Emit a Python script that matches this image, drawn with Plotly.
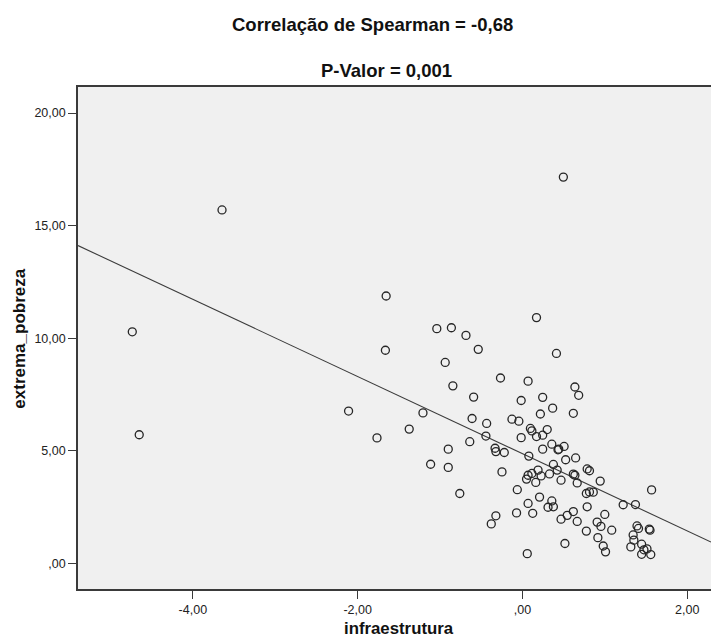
import numpy as np
import plotly.graph_objects as go

# infraestrutura (x) and extrema_pobreza (y)
infraestrutura = [
    -4.735, -4.651, -3.646, -2.110, -1.765, -1.374, -1.207, -1.114, -0.900, -0.760,
    -1.654, -1.663, -1.039, -0.862, -0.685, -0.536, -0.937, -0.844, -0.592, -0.266,
    0.069, 0.171, 0.497, 0.413, -0.015, 0.246, 0.367, 0.218, -0.611, -0.434,
    -0.127, -0.043, 0.097, 0.115, 0.171, 0.246, 0.301, -0.015, -0.443, -0.639,
    -0.900, -0.332, -0.322, -0.220, 0.078, 0.246, 0.357, 0.432, 0.441, 0.506,
    0.525, 0.646, 0.637, 0.683, 0.618, -0.248, 0.190, 0.376, 0.422, 0.069,
    0.115, 0.050, 0.162, 0.227, 0.329, 0.469, 0.618, 0.637, 0.665, 0.786,
    0.814, 0.944, -0.062, 0.208, 0.069, 0.357, 0.311, 0.376, -0.071, 0.125,
    -0.322, -0.378, 0.469, 0.544, 0.618, 0.665, 0.776, 0.516, 0.059, 0.776,
    0.814, 0.860, 0.786, 1.223, 1.372, 1.568, 1.000, 0.907, 0.953, 1.084,
    0.916, 1.391, 1.409, 1.540, 1.549, 1.344, 1.353, 0.981, 1.009, 1.316,
    1.447, 1.475, 1.512, 1.447, 1.558,
]
extrema_pobreza = [
    10.29, 5.72, 15.70, 6.77, 5.58, 5.97, 6.69, 4.41, 4.27, 3.11,
    11.88, 9.47, 10.43, 10.47, 10.13, 9.51, 8.93, 7.89, 7.39, 8.24,
    8.10, 10.92, 17.16, 9.33, 7.24, 7.38, 6.90, 6.64, 6.44, 6.22,
    6.41, 6.32, 6.00, 5.89, 5.64, 5.70, 5.95, 5.59, 5.66, 5.41,
    5.08, 5.12, 4.97, 4.93, 4.77, 5.08, 5.30, 5.05, 5.08, 5.20,
    4.61, 4.69, 7.84, 7.47, 6.67, 4.07, 4.15, 4.40, 4.15, 3.92,
    4.00, 3.75, 3.60, 3.89, 3.98, 3.70, 3.97, 3.92, 3.58, 4.20,
    4.12, 3.66, 3.28, 2.95, 2.67, 2.78, 2.50, 2.52, 2.25, 2.23,
    2.12, 1.76, 1.97, 2.14, 2.31, 1.87, 1.44, 0.89, 0.44, 3.11,
    3.18, 3.17, 2.52, 2.61, 2.62, 3.27, 2.18, 1.84, 1.65, 1.48,
    1.15, 1.67, 1.56, 1.53, 1.48, 1.27, 1.04, 0.78, 0.52, 0.74,
    0.86, 0.61, 0.65, 0.41, 0.40,
]

x_tick_vals = [-4, -2, 0, 2]
x_tick_text = ["-4,00", "-2,00", ",00", "2,00"]
y_tick_vals = [0, 5, 10, 15, 20]
y_tick_text = [",00", "5,00", "10,00", "15,00", "20,00"]

title_line1 = "Correlação de Spearman = -0,68"
title_line2 = "P-Valor = 0,001"
x_title = "infraestrutura"
y_title = "extrema_pobreza"

x_range = [-5.394, 2.289]
y_range = [-1.13, 21.16]

# Linear fit (least squares) computed from the data
slope, intercept = np.polyfit(infraestrutura, extrema_pobreza, 1)
fit_x = np.array(x_range)
fit_y = intercept + slope * fit_x

FONT = "Arial, Liberation Sans, sans-serif"
W, H = 711, 639
L, T, R, B = 78.3, 87.3, 0, 50.3
pw, ph = W - L - R, H - T - B


def px_to_paper(px, py):
    return (px - L) / pw, (H - B - py) / ph


fig = go.Figure()
fig.add_trace(go.Scatter(
    x=fit_x, y=fit_y, mode="lines",
    line=dict(color="#3c3c3c", width=1.1),
    hoverinfo="skip", showlegend=False,
))
fig.add_trace(go.Scatter(
    x=infraestrutura, y=extrema_pobreza, mode="markers",
    marker=dict(symbol="circle-open", size=8, color="#262626",
                line=dict(width=1.3)),
    showlegend=False,
))

annotations = []
for text, (px, py), size in [
    (title_line1, (372.5, 25), 18.5),
    (title_line2, (386.7, 70.5), 18.5),
    (x_title, (399.6, 628.5), 16.8),
]:
    ax, ay = px_to_paper(px, py)
    annotations.append(dict(
        text="<b>%s</b>" % text, x=ax, y=ay, xref="paper", yref="paper",
        xanchor="center", yanchor="middle", showarrow=False,
        font=dict(family=FONT, size=size, color="#111111"),
    ))
ax, ay = px_to_paper(19, 339)
annotations.append(dict(
    text="<b>%s</b>" % y_title, x=ax, y=ay, xref="paper", yref="paper",
    xanchor="center", yanchor="middle", showarrow=False, textangle=-90,
    font=dict(family=FONT, size=17, color="#111111"),
))

fig.update_layout(
    width=W, height=H,
    margin=dict(l=L, t=T, r=R, b=B, pad=0),
    paper_bgcolor="white",
    plot_bgcolor="#f0f0f0",
    font=dict(family=FONT, size=12.5, color="#222222"),
    annotations=annotations,
    xaxis=dict(
        range=x_range, tickvals=x_tick_vals, ticktext=x_tick_text,
        showgrid=False, zeroline=False, showline=True, mirror=True,
        linecolor="#3a3a3a", linewidth=1.6,
        ticks="outside", ticklen=8, tickwidth=1.2, tickcolor="#3a3a3a",
        tickfont=dict(family=FONT, size=12.5, color="#222222"),
    ),
    yaxis=dict(
        range=y_range, tickvals=y_tick_vals, ticktext=y_tick_text,
        showgrid=False, zeroline=False, showline=True, mirror=False,
        linecolor="#3a3a3a", linewidth=1.6,
        ticks="outside", ticklen=8, tickwidth=1.2, tickcolor="#3a3a3a",
        tickfont=dict(family=FONT, size=12.5, color="#222222"),
    ),
)

fig.write_html("out.html", config={"displayModeBar": False})

# remove the browser's default page margin so the figure sits at (0, 0)
with open("out.html", encoding="utf-8") as f:
    html = f.read()
html = html.replace("<body>", '<body style="margin:0;padding:0;overflow:hidden">', 1)
with open("out.html", "w", encoding="utf-8") as f:
    f.write(html)
